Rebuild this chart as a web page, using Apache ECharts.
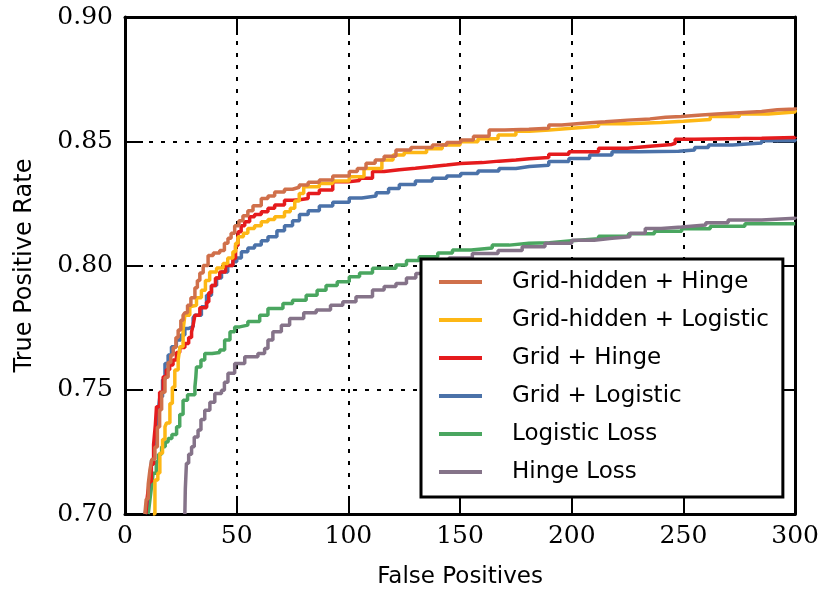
<!DOCTYPE html>
<html>
<head>
<meta charset="utf-8">
<script src="https://cdn.jsdelivr.net/npm/echarts@6/dist/echarts.min.js"></script>
<style>
  html, body { margin: 0; padding: 0; background: #fff; }
  #chart { width: 822px; height: 595px; }
</style>
</head>
<body>
<div id="chart"></div>
<script>
// ROC curves: false positives (x) vs true positive rate (y), one [fp, tpr] list per model
const seriesNames = [
  'Grid-hidden + Hinge',
  'Grid-hidden + Logistic',
  'Grid + Hinge',
  'Grid + Logistic',
  'Logistic Loss',
  'Hinge Loss'
];
const seriesColors = ['#d0704b', '#fdb715', '#e51b1d', '#4b72a9', '#4aa660', '#857389'];

const xTicks = [0, 50, 100, 150, 200, 250, 300];
const yTicks = [0.70, 0.75, 0.80, 0.85, 0.90];

const gridHiddenHinge = [
  [8.9,0.700],[9.5,0.706],[10.4,0.712],[11.2,0.718],[12.0,0.722],[13.4,0.727],[14.5,0.735],[15.5,0.742],
  [16.4,0.749],[17.9,0.755],[19.3,0.761],[20.5,0.764],[21.6,0.767],[22.8,0.771],[23.8,0.774],[25.0,0.778],
  [26.0,0.780],[26.8,0.781],[28,0.784],[29.5,0.787],[31.3,0.791],[32.4,0.794],[33.5,0.797],[35,0.800],
  [37.2,0.804],[39.5,0.805],[42.4,0.806],[44.5,0.809],[46.1,0.811],[47.5,0.813],[49.1,0.816],[51,0.818],
  [52.8,0.820],[55,0.822],[57.3,0.824],[61,0.827],[64,0.828],[67,0.8296],[71.4,0.8307],[75,0.8315],
  [78,0.8324],[82,0.8335],[87,0.8344],[93,0.836],[100.4,0.8378],[104,0.839],[107.9,0.8411],[112,0.8425],
  [116,0.844],[121.3,0.8465],[128,0.8475],[137.6,0.8485],[144,0.8495],[150.3,0.8505],[156,0.852],
  [163,0.8545],[170,0.8548],[180.8,0.8552],[189.7,0.8565],[195.5,0.8572],[205,0.8578],[215,0.8585],
  [225,0.859],[235,0.8597],[242,0.860],[249,0.8606],[258,0.861],[265,0.8615],[275,0.862],[285,0.8627],
  [292,0.863],[300,0.8637]
];

const gridHiddenLogistic = [
  [12.5,0.700],[13.4,0.7137],[14.7,0.7165],[15.6,0.7244],[16.8,0.730],[17.9,0.7351],[18.6,0.7366],
  [20.1,0.7445],[21.2,0.751],[22.3,0.7579],[23.8,0.762],[24.6,0.7673],[26.0,0.774],[26.8,0.780],
  [29.0,0.7834],[29.8,0.784],[32,0.787],[34.2,0.790],[36,0.794],[37.9,0.7974],[41,0.799],[43.9,0.8008],
  [46,0.803],[48.3,0.8055],[49.5,0.809],[50.6,0.8116],[53,0.813],[55,0.8149],[58,0.816],[61,0.8176],
  [64,0.8185],[67,0.8196],[71.4,0.8216],[74,0.823],[76,0.826],[78,0.829],[80,0.8317],[87,0.833],
  [93,0.834],[100.4,0.8357],[107,0.839],[115,0.8425],[120,0.8445],[125,0.8455],[135,0.847],[142,0.8485],
  [150,0.8498],[158,0.851],[167,0.8525],[175,0.854],[181,0.8545],[190,0.8552],[200,0.856],[212,0.857],
  [225,0.8575],[240,0.858],[250,0.8588],[262,0.860],[275,0.861],[288,0.8618],[300,0.8628]
];

const gridHinge = [
  [9.3,0.700],[10.0,0.707],[10.8,0.713],[11.8,0.720],[12.8,0.728],[13.6,0.736],[14.1,0.7432],[15.5,0.749],
  [17.1,0.7552],[18.5,0.758],[20,0.760],[21.5,0.762],[23,0.765],[24.5,0.767],[26.8,0.7686],[28.5,0.771],
  [29.8,0.7733],[30.5,0.776],[31.3,0.780],[33.5,0.783],[36.5,0.7853],[37.5,0.789],[38.7,0.792],[40.5,0.795],
  [42.4,0.7974],[45,0.800],[48.3,0.8028],[49.5,0.808],[50.6,0.8136],[52,0.816],[53.6,0.8176],[55.8,0.8196],
  [58,0.8205],[61,0.8216],[64,0.823],[67,0.8243],[71.4,0.8263],[75,0.8265],[78.1,0.827],[82,0.829],
  [87,0.8304],[93,0.8337],[100,0.8342],[105,0.8351],[110.8,0.8378],[116,0.8385],[122.8,0.8391],[130,0.8398],
  [137.6,0.8404],[144,0.841],[150.3,0.8414],[160,0.842],[167.4,0.8425],[175,0.843],[181,0.8435],
  [189.7,0.8448],[198.7,0.8458],[212,0.8472],[225,0.848],[235,0.8487],[244.8,0.8492],[246.3,0.8508],
  [255,0.851],[270,0.8512],[285,0.8515],[300,0.8518]
];

const gridLogistic = [
  [9.0,0.700],[9.8,0.704],[10.4,0.7083],[11.2,0.715],[11.9,0.7217],[13,0.728],[14.1,0.7338],[14.8,0.741],
  [15.6,0.7472],[16.8,0.754],[17.9,0.7606],[19.3,0.764],[20.8,0.7673],[23,0.770],[25,0.772],[26.8,0.7746],
  [28.3,0.7754],[30.5,0.779],[31.3,0.780],[34.2,0.7834],[36.5,0.788],[38.7,0.792],[41,0.795],[43.2,0.7974],
  [46,0.800],[48.3,0.8015],[50,0.803],[52.1,0.8055],[55,0.807],[58,0.8082],[61,0.810],[64,0.8116],
  [68,0.814],[71.4,0.816],[75,0.818],[78.1,0.8205],[82,0.822],[87,0.8239],[93,0.8255],[100.4,0.8272],
  [106,0.828],[112.4,0.8293],[118,0.831],[122.8,0.8326],[130,0.834],[137.6,0.8351],[144,0.836],
  [150.3,0.837],[158,0.838],[167.4,0.839],[175,0.8398],[181,0.8403],[189.7,0.8419],[198.7,0.8431],
  [208,0.8445],[218,0.8458],[230,0.846],[247.8,0.8465],[255,0.8475],[261.2,0.8485],[272,0.8493],
  [285,0.8502],[300,0.8508]
];

const logisticLoss = [
  [10.4,0.700],[11.2,0.706],[12.0,0.712],[12.6,0.7164],[14,0.721],[15,0.724],[16.4,0.7271],[18,0.729],
  [19.3,0.7304],[21,0.732],[23.1,0.7351],[24.5,0.740],[26,0.7458],[28,0.748],[31.3,0.7512],[31.7,0.755],
  [32,0.7592],[34,0.762],[35.7,0.7646],[39,0.765],[42.4,0.766],[44.6,0.770],[47,0.7733],[49.1,0.7753],
  [51.3,0.776],[55,0.7775],[60.3,0.780],[64,0.7827],[70.7,0.7847],[75,0.786],[81.1,0.788],[86,0.790],
  [90,0.792],[95,0.7935],[100.4,0.7955],[105,0.797],[110.8,0.7989],[121.3,0.8002],[126,0.802],
  [131.7,0.8035],[140,0.805],[146.6,0.8062],[155,0.807],[164.4,0.8082],[172,0.809],[180.8,0.8092],
  [190,0.810],[200,0.8108],[212,0.8118],[225.4,0.8128],[237,0.8138],[249.2,0.8148],[262,0.8158],
  [277.5,0.8168],[300,0.8168]
];

const hingeLoss = [
  [26.8,0.700],[27.0,0.710],[27.5,0.7204],[28.5,0.724],[29.8,0.7271],[31,0.731],[32.7,0.7338],[34,0.738],
  [35.7,0.7418],[38,0.745],[40.2,0.7485],[43.2,0.7498],[44.5,0.753],[46.1,0.7566],[49.1,0.7606],
  [53.6,0.7633],[59.5,0.7646],[62.5,0.7666],[64,0.770],[66.2,0.7733],[70,0.776],[73.7,0.7787],[80,0.781],
  [85.6,0.7821],[92,0.784],[97.5,0.7854],[103.4,0.7874],[110.8,0.7901],[116,0.7915],[121.3,0.7928],
  [126,0.795],[130.2,0.7968],[134.7,0.8008],[145,0.803],[155.5,0.8048],[167,0.806],[177.8,0.8075],
  [188,0.809],[200,0.8102],[210,0.811],[218,0.8116],[226,0.813],[232.9,0.8149],[240,0.8155],
  [249.2,0.8163],[260,0.8172],[270,0.8183],[285,0.819],[300,0.8196]
];

const seriesData = [gridHiddenHinge, gridHiddenLogistic, gridHinge, gridLogistic, logisticLoss, hingeLoss];
// paint order: flat curves first, top curves last
const drawOrder = [4, 5, 3, 2, 1, 0];

const chart = echarts.init(document.getElementById('chart'), null, { renderer: 'canvas' });

const xMin = xTicks[0], xMax = xTicks[xTicks.length - 1], xStep = xTicks[1] - xTicks[0];
const yMin = yTicks[0], yMax = yTicks[yTicks.length - 1], yStep = 0.05;

const tickStyle = { show: true, inside: true, length: 18, lineStyle: { color: '#000', width: 2 } };
const frameLine = { show: true, onZero: false, lineStyle: { color: '#000', width: 3 } };
const dotted = { show: true, lineStyle: { color: '#000', width: 2, type: [4, 8] } };
const serifLabel = { fontFamily: 'DejaVu Serif', fontSize: 25, color: '#000' };

chart.setOption({
  animation: false,
  backgroundColor: '#fff',
  grid: { left: 125, right: 25, top: 17, bottom: 81, containLabel: false },
  xAxis: [
    {
      type: 'value', position: 'bottom', min: xMin, max: xMax, interval: xStep,
      axisLine: frameLine, axisTick: tickStyle, splitLine: dotted,
      axisLabel: Object.assign({ margin: 10 }, serifLabel),
      name: 'False Positives', nameLocation: 'middle', nameGap: 52,
      nameTextStyle: { fontFamily: 'DejaVu Sans', fontSize: 23, color: '#000' }
    },
    {
      type: 'value', position: 'top', min: xMin, max: xMax, interval: xStep,
      axisLine: frameLine, axisTick: tickStyle, splitLine: { show: false }, axisLabel: { show: false }
    }
  ],
  yAxis: [
    {
      type: 'value', position: 'left', min: yMin, max: yMax, interval: yStep,
      axisLine: frameLine, axisTick: tickStyle, splitLine: dotted,
      axisLabel: Object.assign({ margin: 12, formatter: v => v.toFixed(2) }, serifLabel),
      name: 'True Positive Rate', nameLocation: 'middle', nameGap: 88,
      nameTextStyle: { fontFamily: 'DejaVu Sans', fontSize: 24, color: '#000' }
    },
    {
      type: 'value', position: 'right', min: yMin, max: yMax, interval: yStep,
      axisLine: frameLine, axisTick: tickStyle, splitLine: { show: false }, axisLabel: { show: false }
    }
  ],
  legend: {
    data: seriesNames,
    orient: 'vertical',
    left: 421, top: 259,
    backgroundColor: '#fff',
    borderColor: '#000', borderWidth: 3, borderRadius: 0,
    padding: [10, 14, 12, 18],
    itemWidth: 43, itemHeight: 4, itemGap: 12,
    icon: 'rect',
    textStyle: { fontFamily: 'DejaVu Sans', fontSize: 23, color: '#000', lineHeight: 26, padding: [0, 0, 0, 25] }
  },
  series: drawOrder.map(i => ({
    name: seriesNames[i],
    type: 'line',
    step: 'end',
    data: seriesData[i],
    showSymbol: false,
    symbol: 'none',
    color: seriesColors[i],
    lineStyle: { color: seriesColors[i], width: 3.5 },
    itemStyle: { color: seriesColors[i] },
    clip: true
  }))
});
</script>
</body>
</html>
